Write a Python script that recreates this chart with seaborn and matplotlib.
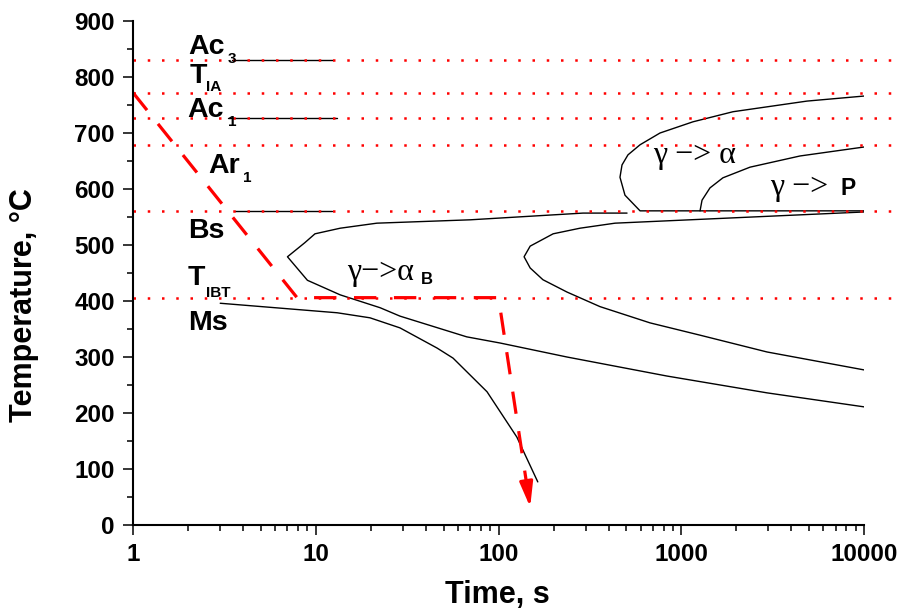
import numpy as np
import pandas as pd
import matplotlib.pyplot as plt
import seaborn as sns
from matplotlib.ticker import FixedLocator, MultipleLocator, NullFormatter

# 臨界温度 (点線)
crit_names = ["Ac3", "TIA", "Ac1", "Ar1", "Bs", "TIBT"]
crit_temps = [830, 772, 727, 678, 561, 406]

# 短い黒線 (Ac3, Ac1, Bs)
short_temps = [830, 727, 561]
short_t0 = [3.5, 3.3, 3.6]
short_t1 = [12.4, 13.0, 12.3]

# ベイナイト C曲線 (1)
bain1_time = [505, 290, 70, 21.6, 13.6, 9.9, 8.7, 7.0, 9.0, 13.6, 22.5, 28.9, 67, 102, 237, 836, 2946, 10000]
bain1_temp = [557, 557, 545, 539, 530, 520, 504, 479, 437, 411, 388, 373, 336, 325, 300, 266, 236, 211]

# ベイナイト C曲線 (2)
bain2_time = [10000, 434, 279, 199, 149, 138, 149, 175, 237, 359, 674, 1267, 2946, 10000]
bain2_temp = [559, 539, 530, 520, 498, 479, 459, 438, 416, 390, 361, 339, 309, 277]

# フェライト
ferr_time = [10000, 595, 492, 462, 474, 511, 595, 765, 1159, 1919, 4876, 10000]
ferr_temp = [561, 561, 589, 621, 643, 661, 679, 700, 720, 738, 757, 766]

# パーライト
pearl_time = [1267, 1299, 1436, 1690, 2378, 4467, 10000]
pearl_temp = [561, 580, 602, 620, 639, 659, 675]

# マルテンサイト
ms_time = [3.0, 13.1, 19.8, 28.9, 46.1, 56.4, 86.5, 126, 164]
ms_temp = [396, 379, 370, 352, 316, 298, 238, 157, 77]

# 熱処理経路
path_time = [1, 7.9, 100, 149]
path_temp = [772, 406, 406, 32]

xtick_vals = [1, 10, 100, 1000, 10000]
xtick_labels = ["1", "10", "100", "1000", "10000"]

sns.set_style("ticks")
plt.rcParams["font.family"] = ["Liberation Sans", "DejaVu Sans"]
plt.rcParams["font.weight"] = "bold"
for key in ["text.color", "axes.labelcolor", "xtick.color", "ytick.color",
            "xtick.labelcolor", "ytick.labelcolor"]:
    plt.rcParams[key] = "black"
serif = ["Liberation Serif", "DejaVu Serif"]

fig, ax = plt.subplots(figsize=(9.05, 6.16), dpi=100)
fig.subplots_adjust(left=0.147, right=0.9547, bottom=0.1477, top=0.9659)

# 曲線データ
frames = []
for name, t, T in [("b1", bain1_time, bain1_temp), ("b2", bain2_time, bain2_temp),
                   ("f", ferr_time, ferr_temp), ("p", pearl_time, pearl_temp),
                   ("ms", ms_time, ms_temp)]:
    frames.append(pd.DataFrame({"time": t, "temp": T, "curve": name}))
for i in range(len(short_temps)):
    frames.append(pd.DataFrame({"time": [short_t0[i], short_t1[i]],
                                "temp": [short_temps[i]] * 2, "curve": f"s{i}"}))
curves = pd.concat(frames, ignore_index=True)

sns.lineplot(data=curves, x="time", y="temp", units="curve", estimator=None,
             sort=False, color="black", lw=1.0, ax=ax)

# 点線
dots = pd.DataFrame({"time": [1, 15500] * len(crit_temps),
                     "temp": np.repeat(crit_temps, 2),
                     "level": np.repeat(crit_names, 2)})
sns.lineplot(data=dots, x="time", y="temp", units="level", estimator=None,
             sort=False, color="red", lw=1.8, linestyle=(0, (1, 4.7)),
             clip_on=False, ax=ax)

# 経路 (矢印)
frac = 0.9
lt = np.log10(path_time[-2]) + frac * (np.log10(path_time[-1]) - np.log10(path_time[-2]))
head_t = 10 ** lt
head_T = path_temp[-2] + frac * (path_temp[-1] - path_temp[-2])
path = pd.DataFrame({"time": path_time[:-1] + [head_t], "temp": path_temp[:-1] + [head_T]})
sns.lineplot(data=path, x="time", y="temp", sort=False, estimator=None,
             color="red", lw=2.3, linestyle=(0, (7, 5.5)), ax=ax)
ax.annotate("", xy=(path_time[-1], path_temp[-1]), xytext=(head_t, head_T),
            arrowprops=dict(arrowstyle="-|>,head_length=1.5,head_width=0.4",
                            color="red", lw=2.2, shrinkA=0, shrinkB=0))

# ラベル
big = 20.5
small = 11
ax.text(2.0, 841, "Ac", fontsize=big)
ax.text(3.3, 825, "3", fontsize=small)
ax.text(2.05, 789, "T", fontsize=big)
ax.text(2.5, 775, "IA", fontsize=small)
ax.text(1.97, 729, "Ac", fontsize=big)
ax.text(3.3, 712, "1", fontsize=small)
ax.text(2.57, 629, "Ar", fontsize=big)
ax.text(4.0, 612, "1", fontsize=small)
ax.text(2.0, 512, "Bs", fontsize=big)
ax.text(2.0, 429, "T", fontsize=big)
ax.text(2.5, 407, "IBT", fontsize=small)
ax.text(2.0, 348, "Ms", fontsize=big)

greek = 23
ax.text(14.8, 437, "γ−>α", fontsize=greek, family=serif, fontweight="normal")
ax.text(37.5, 431, "B", fontsize=12)
ax.text(700, 646, "γ −> α", fontsize=greek, family=serif, fontweight="normal")
ax.text(3060, 589, "γ −>", fontsize=greek, family=serif, fontweight="normal")
ax.text(7450, 589, "P", fontsize=16.5)

# 軸
ax.set_xscale("log")
ax.set_xlim(1, 10000)
ax.set_ylim(0, 900)
ax.xaxis.set_major_locator(FixedLocator(xtick_vals))
ax.set_xticklabels(xtick_labels)
minor = [m * 10 ** e for e in range(4) for m in range(2, 10)]
ax.xaxis.set_minor_locator(FixedLocator(minor))
ax.xaxis.set_minor_formatter(NullFormatter())
ax.yaxis.set_major_locator(MultipleLocator(100))
ax.yaxis.set_minor_locator(MultipleLocator(50))
ax.tick_params(which="major", direction="out", length=7, width=1.1,
               labelsize=17.5, pad=6, color="black", labelcolor="black")
ax.tick_params(which="minor", direction="out", length=4.5, width=1.1, color="black")
sns.despine(ax=ax)
for s in ["left", "bottom"]:
    ax.spines[s].set_linewidth(1.5)
    ax.spines[s].set_color("black")

ax.set_xlabel("Time, s", fontsize=22, fontweight="bold", color="black")
ax.set_ylabel("Temperature, °C", fontsize=22, fontweight="bold", color="black")
ax.xaxis.set_label_coords(0.498, -0.11)
ax.yaxis.set_label_coords(-0.128, 0.4365)

plt.savefig("out.png", dpi=100)
plt.close()
